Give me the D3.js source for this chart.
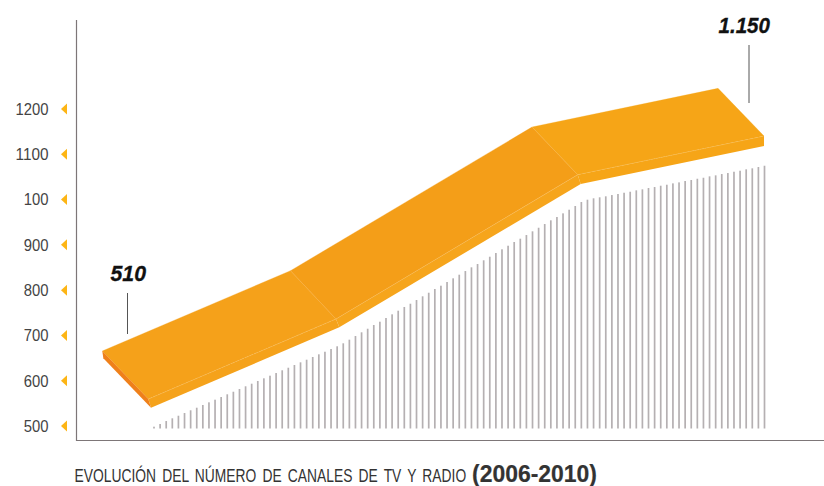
<!DOCTYPE html>
<html><head><meta charset="utf-8">
<script src="https://cdnjs.cloudflare.com/ajax/libs/d3/7.8.5/d3.min.js"></script>
<style>html,body{margin:0;padding:0;background:#fff}svg{display:block}</style>
</head><body><svg id="c" width="824" height="486"></svg>
<script>
const tickValues=[500,600,700,800,900,1000,1100,1200];
const tickLabels=["500","600","700","800","900","100","1100","1200"];
const barValues=[498.5,504.4,511,517,522.7,528.7,534.7,540.4,546.4,552.3,558.1,564,570,575.7,581.7,587.7,593.4,599.4,605.3,611.1,617,623,628.7,634.7,640.6,646.4,652.4,658.3,664,670,676,682.6,690.6,
698.7,706.9,714.8,723,730.3,738.5,746.6,754.6,762.8,770,778.2,786.4,794.3,802.5,809.8,818,826.1,834.1,842.2,850.4,857.7,865.9,873.8,882,890.2,898.1,906.3,913.6,921.7,929.9,937.8,946,954.2,961.5,969.6,977.6,985.8,
994.6,999.7,1002.8,1005,1007.2,1010,1012.3,1015.1,1017.3,1020.4,1022.6,1025.5,1027.7,1030.6,1032.8,1035.8,1038,1041,1043.2,1046,1048.2,1051.3,1053.5,1056.4,1058.6,1061.5,1063.7,1066.8,1069,1071.9,1074.7];
const ribbonBackX=[-8.47,22.36,61.92,92.39];
const ribbonBackV=[665.6,842.9,1160.2,1245.6];
const ribbonFrontX=[-0.93,29.81,69.4,99.92];
const ribbonFrontV=[559.6,736.3,1054.9,1140.3];
const ribbonBottomX=[-0.49,30.35,69.89,99.92];
const ribbonBottomV=[540.4,717.9,1034.3,1118.2];
const ribbonLeftLow=[-8.3,649.5];
const panelColors=["#f5a11a","#f49e18","#f6a517"];
const frontColors=["#f5a21b","#f6a51c","#f6a517"];
const callouts=["510","1.150"];
const captionMain="EVOLUCIÓN DEL NÚMERO DE CANALES DE TV Y RADIO";
const captionYears="(2006-2010)";

const svg=d3.select("#c");
const x=d3.scaleLinear().domain([0,100]).range([154,764.5]);
const y=d3.scaleLinear().domain([500,1200]).range([426,109]);
const P=(i,v)=>[x(i),y(v)];
const poly=pts=>"M"+pts.map(p=>p.join(",")).join("L")+"Z";

svg.append("path").attr("d","M76.5,20V440.5H824").attr("fill","none").attr("stroke","#7d7678").attr("stroke-width",1.2);

const t=svg.append("g").selectAll("g").data(tickValues).join("g").attr("transform",d=>`translate(0,${y(d)})`);
t.append("path").attr("d","M61,0L67,-5.5V5.5Z").attr("fill","#fdb515");
t.append("text").attr("x",48.5).attr("y",5.8).attr("text-anchor","end")
 .attr("font-family","'Liberation Sans'").attr("font-size",16).attr("fill","#444")
 .attr("textLength",(d,i)=>tickLabels[i].length*8.25).attr("lengthAdjust","spacingAndGlyphs")
 .text((d,i)=>tickLabels[i]);

const baseV=y.invert(428.5);
svg.append("g").selectAll("rect").data(barValues).join("rect")
 .attr("x",(d,i)=>x(i)-0.85).attr("width",1.7).attr("y",d=>y(d)).attr("height",d=>y(baseV)-y(d)).attr("fill","#b5b0b2");

const g=svg.append("g");
for(let i=0;i<3;i++){
 g.append("path").attr("d",poly([P(ribbonFrontX[i],ribbonFrontV[i]),P(ribbonFrontX[i+1],ribbonFrontV[i+1]),P(ribbonBottomX[i+1],ribbonBottomV[i+1]),P(ribbonBottomX[i],ribbonBottomV[i])])).attr("fill",frontColors[i]);
 g.append("path").attr("d",poly([P(ribbonBackX[i],ribbonBackV[i]),P(ribbonBackX[i+1],ribbonBackV[i+1]),P(ribbonFrontX[i+1],ribbonFrontV[i+1]),P(ribbonFrontX[i],ribbonFrontV[i])])).attr("fill",panelColors[i]).attr("stroke",panelColors[i]).attr("stroke-width",.3);
}
g.append("path").attr("d",poly([P(ribbonBackX[0],ribbonBackV[0]),P(ribbonFrontX[0],ribbonFrontV[0]),P(ribbonBottomX[0],ribbonBottomV[0]),P(ribbonLeftLow[0],ribbonLeftLow[1])])).attr("fill","#ef801a");
for(let i=0;i<3;i++){
 g.append("line").attr("x1",x(ribbonFrontX[i])).attr("y1",y(ribbonFrontV[i])).attr("x2",x(ribbonFrontX[i+1])).attr("y2",y(ribbonFrontV[i+1])).attr("stroke","#f9c877").attr("stroke-opacity",.75).attr("stroke-width",.5).attr("stroke-dasharray",i==1?null:"4 1");
}
for(let i=1;i<3;i++){
 g.append("line").attr("x1",x(ribbonBackX[i])).attr("y1",y(ribbonBackV[i])).attr("x2",x(ribbonFrontX[i])).attr("y2",y(ribbonFrontV[i])).attr("stroke","#f8bd63").attr("stroke-opacity",.7).attr("stroke-width",.45);
}

const lead=[{x:127.5,y1:293,y2:334},{x:749,y1:45,y2:103}];
svg.selectAll(".lead").data(lead).join("line").attr("x1",d=>d.x).attr("x2",d=>d.x).attr("y1",d=>d.y1).attr("y2",d=>d.y2).attr("stroke","#555").attr("stroke-width",1);
const lab=[{x:110.5,y:280.7,w:35.5,s:callouts[0]},{x:718.5,y:33.3,w:51.5,s:callouts[1]}];
svg.selectAll(".lab").data(lab).join("text").attr("x",d=>d.x).attr("y",d=>d.y)
 .attr("font-family","'Liberation Sans'").attr("font-weight","bold").attr("font-style","italic").attr("font-size",22.5).attr("fill","#111").attr("stroke","#111").attr("stroke-width",.3)
 .attr("textLength",d=>d.w).attr("lengthAdjust","spacingAndGlyphs").text(d=>d.s);

function squeezed(s,x0,base,width,attrs){
 const n=svg.append("text").attr("font-family","'Liberation Sans'").text(s);
 Object.entries(attrs).forEach(([k,v])=>n.attr(k,v));
 const w=n.node().getComputedTextLength();
 n.attr("transform",`translate(${x0},${base}) scale(${width/w},1)`);
}
squeezed(captionMain,74.5,482,392,{"font-size":18,"fill":"#333","word-spacing":3});
squeezed(captionYears,472,482,125,{"font-size":23.5,"font-weight":"bold","fill":"#333","stroke":"#333","stroke-width":.2});
</script></body></html>
